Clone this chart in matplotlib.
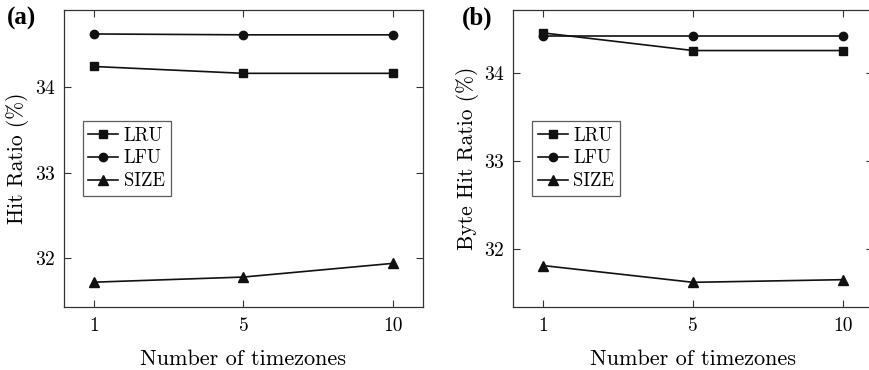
import matplotlib
matplotlib.use("Agg")
import matplotlib.pyplot as plt

plt.rcParams['font.family'] = 'cmr10'
plt.rcParams['axes.formatter.use_mathtext'] = True

timezones = ['1', '5', '10']
series_names = ['LRU', 'LFU', 'SIZE']
markers = ['s', 'o', '^']

# panel (a): hit ratio
hit_lru = [34.24, 34.16, 34.16]
hit_lfu = [34.62, 34.61, 34.61]
hit_size = [31.72, 31.78, 31.94]

# panel (b): byte hit ratio
byte_lru = [34.45, 34.25, 34.25]
byte_lfu = [34.41, 34.41, 34.41]
byte_size = [31.81, 31.62, 31.65]


def draw_panel(ax, values, ylabel, ylim):
    x = range(len(timezones))
    for name, vals, m in zip(series_names, values, markers):
        ms = 6.5 if m == '^' else 6
        ax.plot(x, vals, color='#111111', lw=1.2, marker=m, markersize=ms, label=name)
    ax.set_xlim(-0.2, 2.2)
    ax.set_ylim(*ylim)
    ax.set_xticks(list(x))
    ax.set_xticklabels(timezones)
    ax.set_yticks([32, 33, 34])
    ax.tick_params(direction='in', top=True, right=True, length=5, width=0.8,
                   labelsize=14, pad=7, color='#333333')
    ax.tick_params(axis='y', pad=6)
    for s in ax.spines.values():
        s.set_linewidth(0.9)
        s.set_color('#333333')
    ax.set_xlabel('Number of timezones', fontsize=16, labelpad=11)
    ax.set_ylabel(ylabel, fontsize=15.5, labelpad=4)
    leg = ax.legend(loc='center left', bbox_to_anchor=(0.052, 0.5), fontsize=13.5,
                    frameon=True, fancybox=False, edgecolor='#333333',
                    handlelength=1.6, handletextpad=0.3, borderpad=0.3,
                    labelspacing=0.25, borderaxespad=0)
    leg.get_frame().set_linewidth(0.9)


fig = plt.figure(figsize=(8.69, 3.70), dpi=100)
ax1 = fig.add_axes([64 / 869, 63 / 370, 359 / 869, 297 / 370])
ax2 = fig.add_axes([513.3 / 869, 63 / 370, 359.4 / 869, 297 / 370])

draw_panel(ax1, [hit_lru, hit_lfu, hit_size], 'Hit Ratio (%)', (31.43, 34.9))
draw_panel(ax2, [byte_lru, byte_lfu, byte_size], 'Byte Hit Ratio (%)', (31.34, 34.71))

fig.text(7 / 869, 1 - 18.5 / 370, '(a)', fontsize=18, fontweight='bold',
         family='Liberation Serif', va='center', ha='left')
fig.text(462 / 869, 1 - 18.5 / 370, '(b)', fontsize=18, fontweight='bold',
         family='Liberation Serif', va='center', ha='left')

fig.savefig('out.png', dpi=100)
